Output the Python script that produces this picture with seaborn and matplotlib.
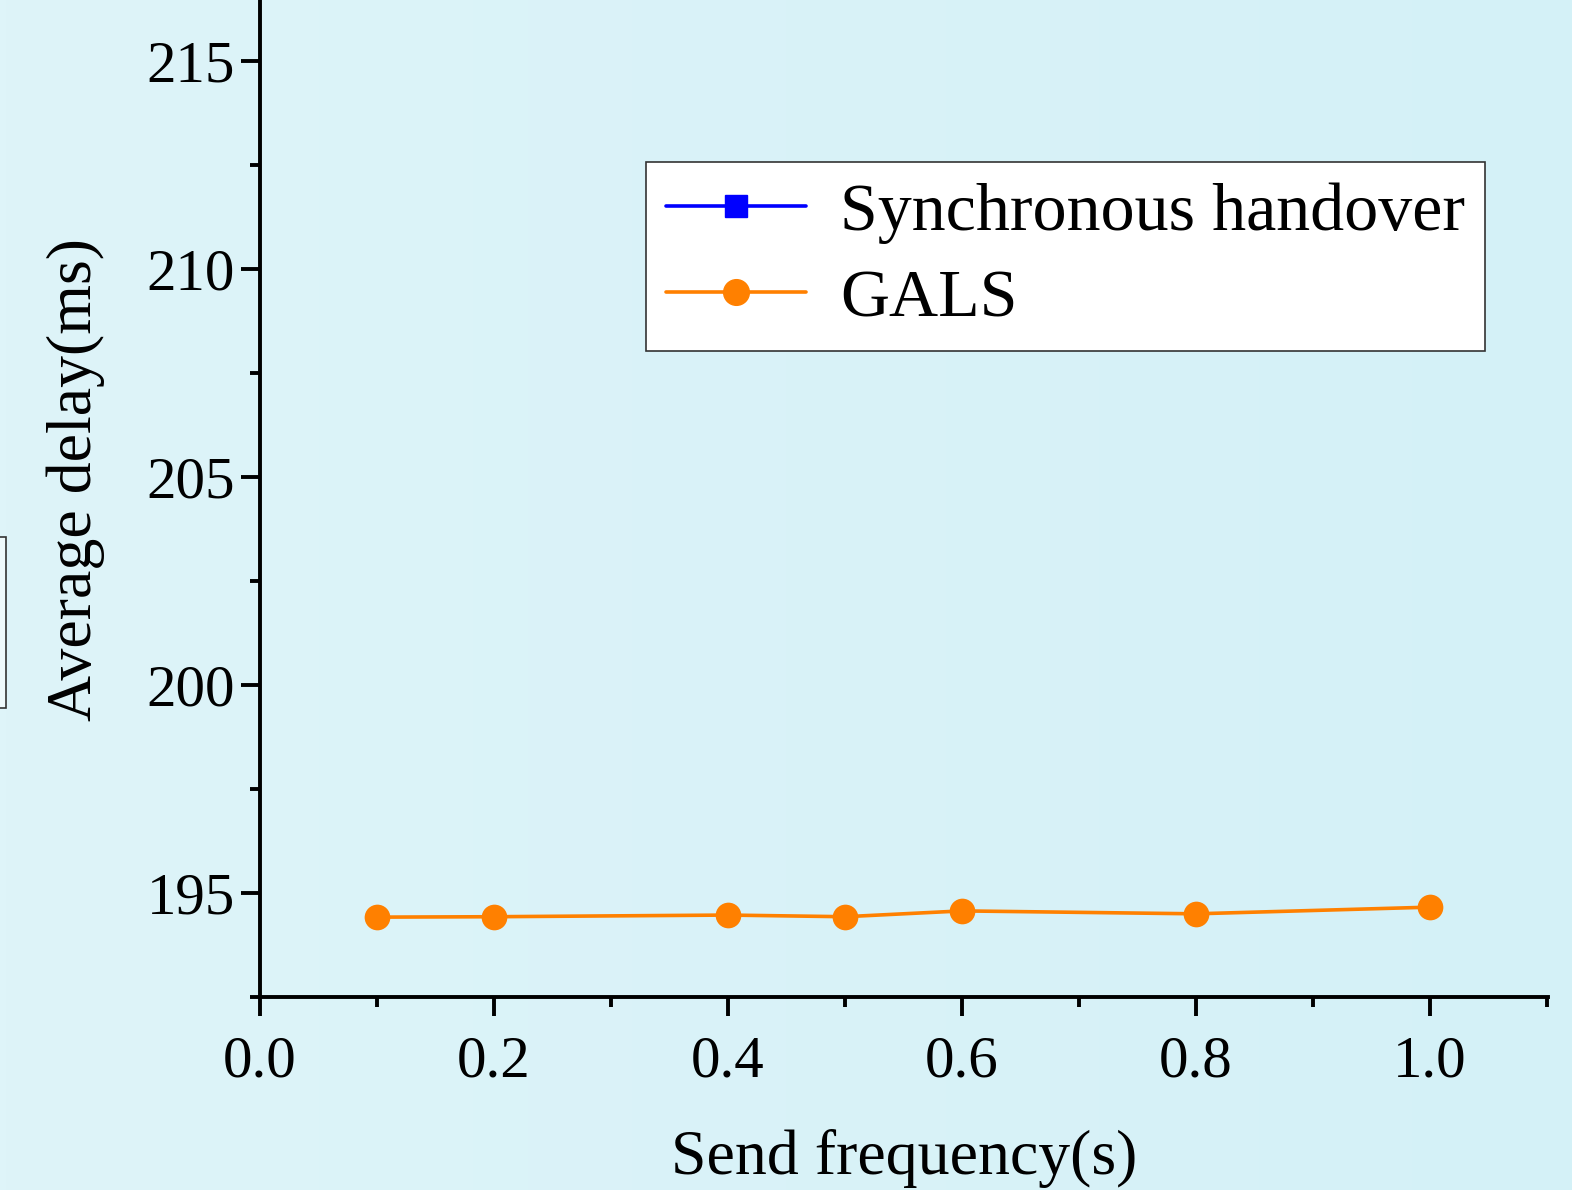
import numpy as np
import pandas as pd
import seaborn as sns
import matplotlib.pyplot as plt
from matplotlib.lines import Line2D
from matplotlib.patches import Rectangle
from matplotlib.ticker import MultipleLocator
from matplotlib.colors import LinearSegmentedColormap

# values
send_freq = [0.1, 0.2, 0.4, 0.5, 0.6, 0.8, 1.0]
gals_delay = [194.42, 194.43, 194.47, 194.43, 194.57, 194.50, 194.66]
series_names = ["Synchronous handover", "GALS"]

df = pd.DataFrame({"Send frequency(s)": send_freq,
                   "Average delay(ms)": gals_delay,
                   "Method": "GALS"})

sns.set_style("ticks")
plt.rcParams['font.family'] = ['Liberation Serif', 'DejaVu Serif']
plt.rcParams['text.color'] = 'black'
plt.rcParams['axes.labelcolor'] = 'black'
plt.rcParams['xtick.color'] = 'black'
plt.rcParams['ytick.color'] = 'black'

fig = plt.figure(figsize=(15.72, 11.90), dpi=100)

# light cyan gradient background
bg = fig.add_axes([0, 0, 1, 1], zorder=-10)
grad = np.linspace(0, 1, 256).reshape(1, -1)
cmap = LinearSegmentedColormap.from_list("bg", ["#def4f9", "#d4f1f7"])
bg.imshow(grad, aspect="auto", cmap=cmap, extent=[0, 1, 0, 1])
bg.axis("off")

# bit of a cropped box at the left edge
fig.patches.append(Rectangle((-0.01, 1 - 708 / 1190), 0.0138, 171 / 1190,
                             transform=fig.transFigure, facecolor="#eef9fb",
                             edgecolor="#333333", linewidth=1.2))

ax = fig.add_axes([260 / 1572, 1 - 997 / 1190, 1288 / 1572, 997 / 1190])
ax.patch.set_alpha(0)

sns.lineplot(data=df, x="Send frequency(s)", y="Average delay(ms)",
             color="#ff8000", marker="o", markersize=18.5, linewidth=2.6,
             markeredgewidth=0, ax=ax, legend=False)

ax.set_xlim(0, 1.101)
ax.set_ylim(192.5, 216.47)
ax.xaxis.set_major_locator(MultipleLocator(0.2))
ax.xaxis.set_minor_locator(MultipleLocator(0.1))
ax.yaxis.set_major_locator(MultipleLocator(5))
ax.yaxis.set_minor_locator(MultipleLocator(2.5))
ax.set_xticks([0.0, 0.2, 0.4, 0.6, 0.8, 1.0])
ax.set_xticklabels(["0.0", "0.2", "0.4", "0.6", "0.8", "1.0"])

sns.despine(ax=ax)
for s in ["left", "bottom"]:
    ax.spines[s].set_linewidth(2.8)
    ax.spines[s].set_color("black")
ax.tick_params(which="major", length=14, width=2.8, labelsize=42.5)
ax.tick_params(which="minor", length=7, width=2.8)
ax.tick_params(axis="x", which="major", pad=14)
ax.tick_params(axis="y", which="major", pad=4)

ax.set_xlabel("Send frequency(s)", fontsize=46, labelpad=28)
ax.set_ylabel("Average delay(ms)", fontsize=46)
ax.yaxis.set_label_coords(-0.12, 0.519)

handles = [Line2D([], [], color="#0000ff", marker="s", markersize=16.5, linewidth=2.6),
           Line2D([], [], color="#ff8000", marker="o", markersize=18.5, linewidth=2.6)]
leg = ax.legend(handles, series_names, loc="upper left",
                bbox_to_anchor=((646 - 260) / 1288, 1 - 162 / 997),
                fontsize=49, frameon=True, fancybox=False, framealpha=1,
                edgecolor="#333333", handlelength=2.05, handletextpad=0.5,
                borderpad=0.3, labelspacing=0.36, borderaxespad=0)
leg.get_frame().set_linewidth(1.2)

plt.savefig("out.png", dpi=100)
plt.close()
